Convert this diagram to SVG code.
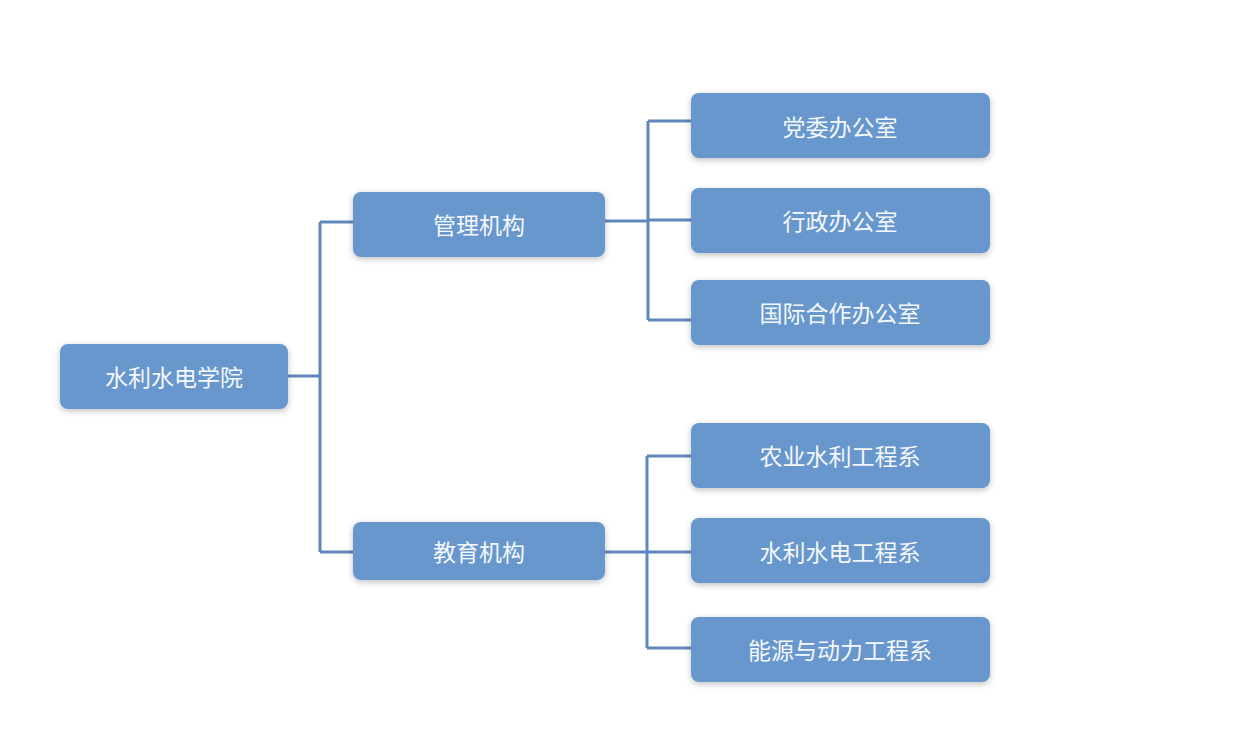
<svg xmlns="http://www.w3.org/2000/svg" width="1260" height="744" viewBox="0 0 1260 744">
<defs>
<filter id="sh" x="-10%" y="-20%" width="120%" height="150%">
<feDropShadow dx="0" dy="2" stdDeviation="3" flood-color="#000" flood-opacity="0.25"/>
</filter>
<style>
.box{fill:#6897cd;filter:url(#sh)}
.t{fill:#f4f7fb;font-family:"Noto Sans CJK SC","Noto Sans",sans-serif;font-size:23px;text-anchor:middle;dominant-baseline:central}
.c{stroke:#5f87b9;stroke-width:3;fill:none}
</style>
</defs>
<rect width="1260" height="744" fill="#fff"/>
<g id="connectors">
<path class="c" d="M288 376H320M320 222V552M320 222H353M320 552H353"/>
<path class="c" d="M605 221H648M648 121V320M648 121H691M648 220H691M648 320H691"/>
<path class="c" d="M605 552H647M647 456V648M647 456H691M647 552H691M647 648H691"/>
</g>
<g id="root"><rect class="box" x="60" y="344" width="228" height="65" rx="8"/><text class="t" x="174" y="376">水利水电学院</text></g>
<g id="mgmt"><rect class="box" x="353" y="192" width="252" height="65" rx="8"/><text class="t" x="479" y="224">管理机构</text></g>
<g id="edu"><rect class="box" x="353" y="522" width="252" height="58" rx="8"/><text class="t" x="479" y="551">教育机构</text></g>
<g id="n1"><rect class="box" x="691" y="93" width="299" height="65" rx="8"/><text class="t" x="840" y="126">党委办公室</text></g>
<g id="n2"><rect class="box" x="691" y="188" width="299" height="65" rx="8"/><text class="t" x="840" y="220">行政办公室</text></g>
<g id="n3"><rect class="box" x="691" y="280" width="299" height="65" rx="8"/><text class="t" x="840" y="312">国际合作办公室</text></g>
<g id="n4"><rect class="box" x="691" y="423" width="299" height="65" rx="8"/><text class="t" x="840" y="455">农业水利工程系</text></g>
<g id="n5"><rect class="box" x="691" y="518" width="299" height="65" rx="8"/><text class="t" x="840" y="551">水利水电工程系</text></g>
<g id="n6"><rect class="box" x="691" y="617" width="299" height="65" rx="8"/><text class="t" x="840" y="649">能源与动力工程系</text></g>
</svg>
